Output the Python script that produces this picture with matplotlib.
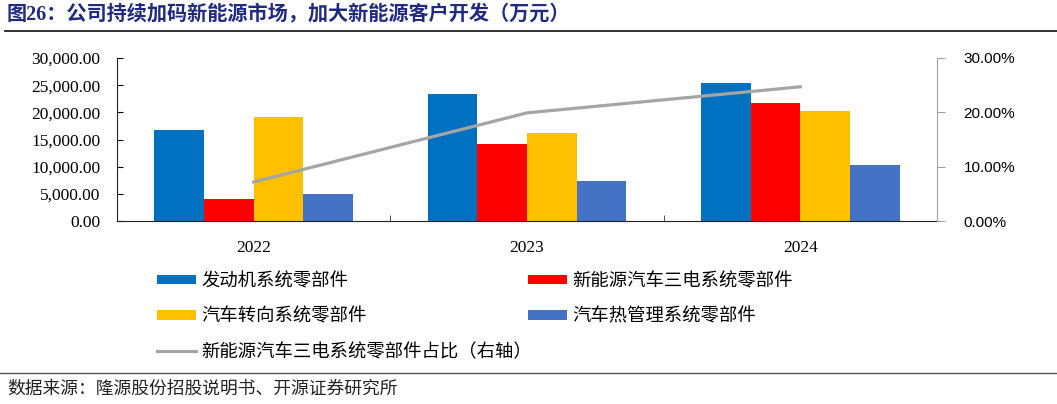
import numpy as np
import matplotlib
matplotlib.use("Agg")
from matplotlib import pyplot as plt
from matplotlib.lines import Line2D
from matplotlib.ticker import FuncFormatter, FixedLocator

years = ["2022", "2023", "2024"]
engine = [16750, 23400, 25400]        # 发动机系统零部件
nev = [4050, 14200, 21700]            # 新能源汽车三电系统零部件
steering = [19100, 16200, 20200]      # 汽车转向系统零部件
thermal = [4950, 7350, 10300]         # 汽车热管理系统零部件
nev_share = [0.0718, 0.199, 0.247]    # 新能源汽车三电系统零部件占比（右轴）

names = ["发动机系统零部件", "新能源汽车三电系统零部件", "汽车转向系统零部件",
         "汽车热管理系统零部件", "新能源汽车三电系统零部件占比（右轴）"]
colors = ["#0070C0", "#FF0000", "#FFC000", "#4472C4", "#A5A5A5"]

cjk = ["Noto Sans CJK SC", "DejaVu Sans"]
plt.rcParams["font.family"] = cjk

fig = plt.figure(figsize=(10.57, 4.04), dpi=100)
ax = fig.add_axes([117 / 1057, 1 - 221 / 404, (937 - 117) / 1057, (221 - 58) / 404])

x = np.arange(len(years))
w = 0.182
bars = []
for i, vals in enumerate([engine, nev, steering, thermal]):
    b = ax.bar(x + (i - 1.5) * w, vals, w, color=colors[i], zorder=2)
    bars.append(b)

ax.set_xlim(-0.5, 2.5)
ax.set_ylim(0, 30000)
ax.set_yticks(np.arange(0, 30001, 5000))
ax.yaxis.set_major_formatter(FuncFormatter(lambda v, p: f"{v:,.2f}"))
ax.tick_params(axis="y", direction="in", length=4, pad=12, labelsize=12.5)
for t in ax.get_yticklabels():
    t.set_family("Liberation Serif")
ax.set_xticks(x)
ax.set_xticklabels(years, family="Liberation Serif", fontsize=12.5)
ax.tick_params(axis="x", which="major", length=0, pad=14)
ax.xaxis.set_minor_locator(FixedLocator([0.5, 1.5]))
ax.tick_params(axis="x", which="minor", direction="in", length=4, color="#333333")
ax.spines["top"].set_visible(False)
ax.spines["right"].set_visible(False)
ax.spines["left"].set_color("#222222")
ax.spines["bottom"].set_color("#222222")

ax2 = ax.twinx()
ln, = ax2.plot(x, nev_share, color=colors[4], lw=2.3, zorder=3)
ax2.set_ylim(0, 0.30)
ax2.set_yticks([0, 0.1, 0.2, 0.3])
ax2.yaxis.set_major_formatter(FuncFormatter(lambda v, p: f"{v * 100:.2f}%"))
ax2.tick_params(axis="y", direction="out", length=6, color="#A0A0A0", pad=13, labelsize=11)
for t in ax2.get_yticklabels():
    t.set_family("Liberation Sans")
for s in ["top", "left", "bottom"]:
    ax2.spines[s].set_visible(False)
ax2.spines["right"].set_color("#A0A0A0")

leg_kw = dict(loc="upper left", frameon=False, fontsize=13.2, handlelength=2.1,
              handleheight=0.45, handletextpad=0.3, labelspacing=0.95,
              borderpad=0, borderaxespad=0)
fig.legend([bars[0], bars[2], ln], [names[0], names[2], names[4]],
           bbox_to_anchor=(157 / 1057, 1 - 272 / 404), **leg_kw)
fig.legend([bars[1], bars[3]], [names[1], names[3]],
           bbox_to_anchor=(528 / 1057, 1 - 272 / 404), **leg_kw)

fig.text(7 / 1057, 1 - 15 / 404, "图26：公司持续加码新能源市场，加大新能源客户开发（万元）",
         family=["Liberation Serif", "Noto Sans CJK SC"], fontweight="bold",
         fontsize=14.5, color="#1F2A80", va="center", ha="left")
fig.add_artist(Line2D([5 / 1057, 1], [1 - 31 / 404] * 2, color="#222222", lw=1.3))
fig.add_artist(Line2D([0, 1], [1 - 373 / 404] * 2, color="#555555", lw=1.0))
fig.text(7 / 1057, 1 - 389 / 404, "数据来源：隆源股份招股说明书、开源证券研究所",
         fontsize=12.8, color="#222222", va="center", ha="left")

fig.savefig("out.png", dpi=100)
